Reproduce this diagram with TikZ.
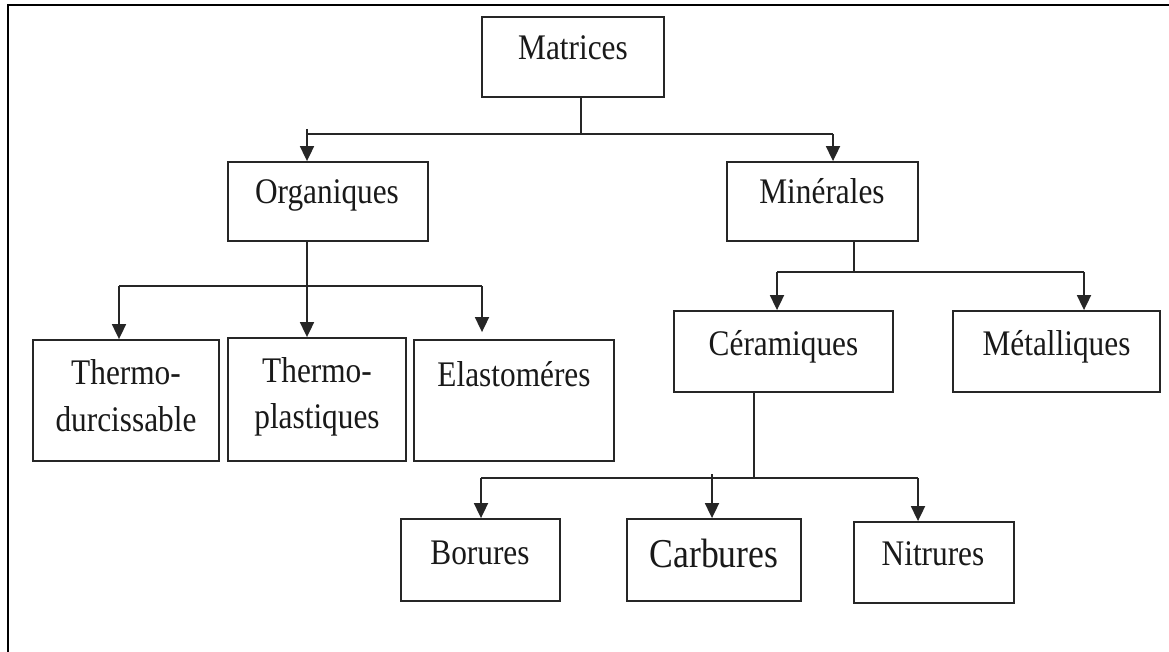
\documentclass[tikz,border=0pt]{standalone}
\usepackage{fontspec}
\setmainfont{Liberation Serif}[FakeStretch=0.87]
\usetikzlibrary{arrows.meta,calc}

\tikzset{
  box/.style={draw=black!85, line width=1.8pt, inner sep=0pt, fill=white},
  txt/.style={inner sep=0pt, anchor=base, text=black!90,
              font=\fontsize{36pt}{40pt}\selectfont},
  bigtxt/.style={txt, font=\fontsize{41pt}{45pt}\selectfont},
  conn/.style={draw=black!85, line width=1.8pt},
  arr/.style={conn, -{Triangle[length=15pt, width=14pt]}},
  frame/.style={draw=black, line width=2.6pt}
}

\begin{document}
\begin{tikzpicture}[x=1pt, y=-1pt]
  \useasboundingbox (0,0) rectangle (1169,652);

  % outer frame (top and left sides)
  \draw[frame] (8,660) -- (8,5) -- (1175,5);

  % boxes
  \node[box, minimum width=182pt, minimum height=80pt] (mat) at (573,57) {};
  \node[box, minimum width=200pt, minimum height=79pt] (org) at (328,201.5) {};
  \node[box, minimum width=191pt, minimum height=79pt] (min) at (822.5,201.5) {};
  \node[box, minimum width=186pt, minimum height=121pt] (thd) at (126,400.5) {};
  \node[box, minimum width=178pt, minimum height=123pt] (thp) at (317,399.5) {};
  \node[box, minimum width=200pt, minimum height=121pt] (ela) at (514,400.5) {};
  \node[box, minimum width=219pt, minimum height=81pt] (cer) at (783.5,351.5) {};
  \node[box, minimum width=207pt, minimum height=81pt] (met) at (1056.5,351.5) {};
  \node[box, minimum width=159pt, minimum height=82pt] (bor) at (480.5,560) {};
  \node[box, minimum width=174pt, minimum height=82pt] (car) at (714,560) {};
  \node[box, minimum width=160pt, minimum height=81pt] (nit) at (934,562.5) {};

  % labels
  \node[txt] (mat-t) at (573,60) {Matrices};
  \node[txt] (org-t) at (327,204) {Organiques};
  \node[txt] (min-t) at (822,204) {Minérales};
  \node[txt] (thd-t1) at (126,384) {Thermo-};
  \node[txt] (thd-t2) at (126,431) {durcissable};
  \node[txt] (thp-t1) at (317,382) {Thermo-};
  \node[txt] (thp-t2) at (317,428) {plastiques};
  \node[txt] (ela-t) at (514,386) {Elastoméres};
  \node[txt] (cer-t) at (783.5,355) {Céramiques};
  \node[txt] (met-t) at (1056.5,355) {Métalliques};
  \node[txt] (bor-t) at (480,564) {Borures};
  \node[bigtxt] (car-t) at (714,567) {Carbures};
  \node[txt] (nit-t) at (933,565) {Nitrures};

  % Matrices -> Organiques / Minerales
  \coordinate (mJ) at (581,134);
  \coordinate (mL) at (307,134);
  \coordinate (mLs) at (307,129);
  \coordinate (mR) at (833,134);
  \draw[conn] (mat.south -| mJ) -- (mJ);
  \draw[conn] (mL) -- (mR);
  \draw[arr] (mLs) -- (mLs |- org.north);
  \draw[arr] (mR) -- (mR |- min.north);

  % Organiques -> three families
  \coordinate (oJ) at (307,286);
  \coordinate (oL) at (119,286);
  \coordinate (oR) at (482,286);
  \draw[conn] (oL) -- (oR);
  \draw[arr] (org.south -| oJ) -- (oJ |- thp.north);
  \draw[arr] (oL) -- (oL |- thd.north);
  \draw[arr] (oR) -- ($(oR |- ela.north)+(0,-7)$);

  % Minerales -> Ceramiques / Metalliques
  \coordinate (nJ) at (854,272);
  \coordinate (nL) at (777,272);
  \coordinate (nR) at (1084,272);
  \draw[conn] (min.south -| nJ) -- (nJ);
  \draw[conn] (nL) -- (nR);
  \draw[arr] (nL) -- (nL |- cer.north);
  \draw[arr] (nR) -- (nR |- met.north);

  % Ceramiques -> Borures / Carbures / Nitrures
  \coordinate (cJ) at (754,478);
  \coordinate (cL) at (481,478);
  \coordinate (cM) at (712,474);
  \coordinate (cR) at (918,478);
  \draw[conn] (cer.south -| cJ) -- (cJ);
  \draw[conn] (cL) -- (cR);
  \draw[arr] (cL) -- (cL |- bor.north);
  \draw[arr] (cM) -- (cM |- car.north);
  \draw[arr] (cR) -- (cR |- nit.north);
\end{tikzpicture}
\end{document}
